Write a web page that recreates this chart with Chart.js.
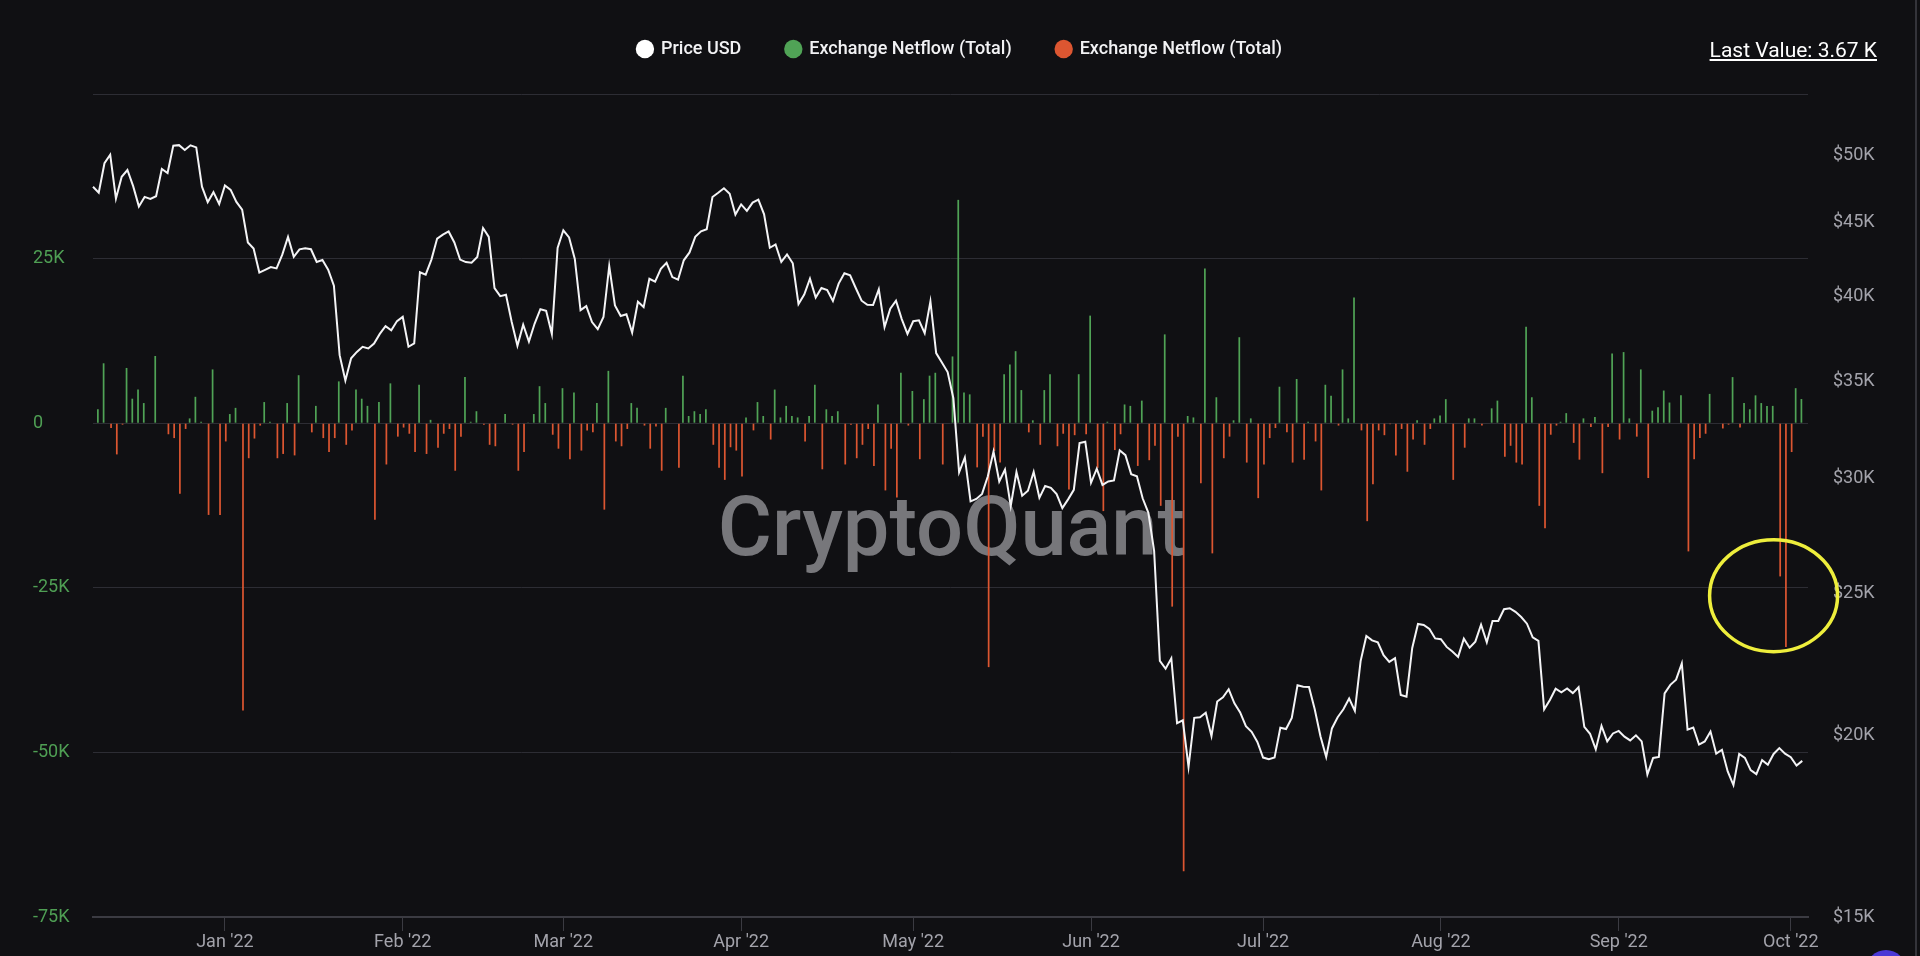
<!DOCTYPE html>
<html>
<head>
<meta charset="utf-8">
<title>BTC Exchange Netflow vs Price</title>
<script src="https://cdn.jsdelivr.net/npm/chart.js@4.4.1/dist/chart.umd.min.js"></script>
<style>
  html, body { margin: 0; padding: 0; background: #101013; overflow: hidden; }
  #wrap { position: relative; width: 1920px; height: 956px; }
  #lastValue {
    position: absolute; top: 40px; right: 43px;
    color: #ffffff; font: 400 21px Roboto, sans-serif; line-height: 1;
    text-decoration: underline; text-decoration-thickness: 2px; text-underline-offset: 2px;
  }
  .edge { position: absolute; left: 1915px; top: 0; width: 2px; height: 956px; background: #34343a; }
  .bubble { position: absolute; left: 1866px; top: 950px; width: 40px; height: 40px; border-radius: 50%; background: #4a38d6; }
</style>
</head>
<body>
<div id="wrap">
  <canvas id="netflowChart" width="1920" height="956"></canvas>
  <div id="lastValue">Last Value: 3.67 K</div>
  <div class="edge"></div>
  <div class="bubble"></div>
</div>
<script>
// daily data, first day 2021-12-09, last 2022-10-03
const startDay = Date.UTC(2021, 11, 9);
const dayCount = 300; // one empty day at the end (Oct 4) like the source chart
const monthNames = ['Jan', 'Feb', 'Mar', 'Apr', 'May', 'Jun', 'Jul', 'Aug', 'Sep', 'Oct', 'Nov', 'Dec'];

const priceUsd = [
  // Dec 9 - Dec 31
  47580, 47140, 49390, 50050, 46700, 48340, 48860, 47630, 46130, 46830, 46680, 46880, 48940, 48630, 50780, 50820,
  50430, 50810, 50640, 47590, 46440, 47180, 46310,
  // Jan
  47690, 47350, 46460, 45900, 43570, 43160, 41550, 41730, 41910, 41820, 42740, 43950, 42590, 43100, 43180, 43110,
  42250, 42380, 41740, 40700, 36460, 35030, 36280, 36650, 36950, 36850, 37140, 37710, 38170, 37920, 38480,
  // Feb
  38740, 36950, 37150, 41570, 41410, 42410, 43840, 44120, 44340, 43570, 42410, 42240, 42200, 42590, 44580, 43960,
  40540, 40030, 40120, 38430, 37010, 38260, 37260, 38330, 39210, 39110, 37700, 43190,
  // Mar
  44420, 43920, 42450, 39150, 39400, 38420, 37990, 38730, 41980, 39440, 38790, 38900, 37790, 39670, 39340, 41140,
  40950, 41800, 42190, 41250, 41080, 42360, 42890, 43960, 44350, 44500, 46820, 47130, 47470, 47060, 45540,
  // Apr
  46280, 45810, 46410, 46620, 45560, 43210, 43440, 42250, 42760, 42160, 39530, 40130, 41150, 39940, 40550, 40420,
  39720, 40830, 41500, 41370, 40530, 39740, 39480, 39470, 40460, 38120, 39240, 39740, 38600, 37710,
  // May
  38470, 38530, 37750, 39700, 36580, 36040, 35500, 34060, 30300, 31020, 28940, 29050, 29280, 30100, 31310, 29860,
  30430, 28720, 30310, 29200, 29430, 30320, 29100, 29650, 29560, 29270, 28630, 29030, 29470, 31730, 31800,
  // Jun
  29800, 30470, 29700, 29860, 29910, 31370, 31130, 30210, 30110, 29080, 28420, 26760, 22490, 22210, 22580, 20380,
  20470, 19020, 20550, 20570, 20720, 19970, 21090, 21230, 21500, 21030, 20730, 20280, 20100, 19780,
  // Jul
  19300, 19250, 19300, 20230, 20190, 20550, 21640, 21590, 21580, 20830, 19960, 19320, 20210, 20570, 20830, 21190,
  20780, 22480, 23390, 23230, 23160, 22690, 22450, 22580, 21310, 21250, 22950, 23840, 23800, 23650, 23300,
  // Aug
  23270, 22990, 22820, 22630, 23290, 22960, 23180, 23810, 23160, 23950, 23950, 24400, 24440, 24300, 24100, 23850,
  23340, 23210, 20830, 21140, 21520, 21400, 21530, 21370, 21570, 20260, 20040, 19550, 20290, 19800, 20050,
  // Sep
  20130, 19950, 19830, 19990, 19800, 18790, 19290, 19320, 21360, 21650, 21830, 22400, 20170, 20240, 19700, 19800,
  20110, 19420, 19540, 18880, 18480, 19410, 19290, 18920, 18800, 19220, 19080, 19410, 19590, 19420,
  // Oct
  19310, 19060, 19200
];

const netflow = [
  // Dec 9 - Dec 31
  0, 2100, 9100, -730, -4740, -220, 8390, 3720, 5110, 3060, 0, 10210, 0, -1680, -2260, -10720,
  -875, 730, 4010, 220, -13930, 8170, -13930,
  // Jan
  -2770, 1390, 2330, -43620, -5320, -2330, -360, 3210, 220, -5320, -4670, 3060, -4890, 7290, 0, -1390,
  2630, -2260, -4380, -2260, 6350, -3280, -1090, 5110, 3720, 2630, -14660, 3210, -6270, 6050, -2040,
  // Feb
  -660, -1600, -4380, 5840, -4670, 510, -3720, -1600, -875, -7220, -2040, 7000, 220, 1820, -220, -3280,
  -3500, 0, 1390, -220, -7220, -4380, 100, 1390, 5620, 3060, -1750, -3870,
  // Mar
  5320, -5470, 4670, -4160, -1090, -1390, 3060, -13130, 7950, -2770, -3500, -875, 3060, 2330, -360, -3870,
  -510, -7220, 2330, 0, -6780, 7220, 1090, 1820, 1390, 2115, -3280, -6780, -8610, -3650, -4160,
  // Apr
  -8100, 875, -1090, 3210, 1090, -2480, 5110, 875, 2630, 1090, 875, -2770, 1090, 5840, -7000, 2115,
  1090, 1820, -6270, -220, -5320, -3280, -875, -6490, 2845, -10210, -3870, -11300, 7660, -360,
  // May
  4890, -5470, 3650, 7220, 7660, -6270, 0, 10140, 33920, 4670, 4380, -6710, -2040, -37050, -4230, -5980,
  7440, 8900, 10940, 5030, -1390, 440, -3280, 5030, 7440, -3500, -1600, -10070, -1820, 7440, -1680,
  // Jun
  16340, -6780, -13350, 220, -4080, -1680, 2845, 2630, -6490, 3430, -5620, -3430, -12550, 13490, -27860, -2040,
  -68050, 1090, 875, -9120, 23490, -19770, 3940, -5320, -2040, 440, 13060, -5980, 730, -11380,
  // Jul
  -6270, -2260, -730, 5540, -1390, -5980, 6710, -5540, 220, -2770, -10210, 5840, 4160, -360, 8170, 730,
  19110, -1090, -14880, -9260, -1090, -1820, -150, -4890, -875, -7370, -2480, 440, -3280, -875, 730,
  // Aug
  1170, 3650, -8610, 0, -3720, 730, 730, -360, 0, 2260, 3430, -5110, -3430, -5980, -6270, 14660,
  3940, -12550, -15970, -1750, -360, 220, 1530, -2990, -5540, 730, -580, 950, -7590, -580, 10580,
  // Sep
  -2480, 10800, 730, -2040, 8170, -8320, 1900, 2410, 4960, 3140, 0, 4230, -19470, -5470, -2260, -1600,
  4450, 0, -800, -220, 7000, -660, 3060, 2115, 4230, 3060, 2630, 2630, -23270, -33990,
  // Oct
  -4380, 5320, 3670
];

const priceTicks = [15000, 20000, 25000, 30000, 35000, 40000, 45000, 50000];
const circled = { day: 293, value: -26200 }; // yellow ring around the late-Sep outflows

const labels = [];
for (let i = 0; i < dayCount; i++) {
  labels.push(new Date(startDay + i * 86400000).toISOString().slice(0, 10));
}
const inflow = netflow.map(v => v > 0 ? v : null);
const outflow = netflow.map(v => v < 0 ? v : null);

const GREEN = '#50a356';
const RED = '#dc5631';

Chart.defaults.font.family = 'Roboto, sans-serif';

// make room under the legend so the plot starts where the original does
const legendSpace = {
  id: 'legendSpace',
  beforeInit(chart) {
    const fit = chart.legend.fit;
    chart.legend.fit = function () {
      fit.call(this);
      this.height = 99;
    };
  }
};

const watermark = {
  id: 'watermark',
  beforeDatasetsDraw(chart) {
    const { ctx, chartArea } = chart;
    ctx.save();
    ctx.font = '500 83px Roboto';
    ctx.fillStyle = '#77777b';
    ctx.textAlign = 'center';
    ctx.textBaseline = 'alphabetic';
    ctx.fillText('CryptoQuant', (chartArea.left + chartArea.right) / 2 + 1, (chartArea.top + chartArea.bottom) / 2 + 49);
    ctx.restore();
  }
};

const ring = {
  id: 'ring',
  afterDraw(chart) {
    const ctx = chart.ctx;
    const x = chart.scales.x.getPixelForValue(circled.day);
    const y = chart.scales.y.getPixelForValue(circled.value);
    ctx.save();
    ctx.strokeStyle = '#eeee3c';
    ctx.lineWidth = 3.5;
    ctx.beginPath();
    ctx.ellipse(x, y, 64, 56, 0, 0, Math.PI * 2);
    ctx.stroke();
    ctx.restore();
  }
};

const ctx = document.getElementById('netflowChart').getContext('2d');
new Chart(ctx, {
  type: 'bar',
  data: {
    labels: labels,
    datasets: [
      {
        type: 'line',
        label: 'Price USD',
        data: priceUsd,
        yAxisID: 'y1',
        borderColor: '#f4f4f6',
        backgroundColor: '#ffffff',
        borderWidth: 2,
        pointRadius: 0,
        pointHoverRadius: 0,
        tension: 0,
        order: 0
      },
      {
        label: 'Exchange Netflow (Total)',
        data: inflow,
        yAxisID: 'y',
        backgroundColor: GREEN,
        borderColor: GREEN,
        borderWidth: 0,
        categoryPercentage: 0.6,
        barPercentage: 1,
        order: 1
      },
      {
        label: 'Exchange Netflow (Total)',
        data: outflow,
        yAxisID: 'y',
        backgroundColor: RED,
        borderColor: RED,
        borderWidth: 0,
        categoryPercentage: 0.6,
        barPercentage: 1,
        order: 2
      }
    ]
  },
  options: {
    responsive: false,
    animation: false,
    events: [],
    layout: { padding: { top: -5, left: 33, right: 33, bottom: 0 } },
    plugins: {
      legend: {
        position: 'top',
        labels: {
          usePointStyle: true,
          pointStyle: 'circle',
          boxWidth: 14,
          boxHeight: 13,
          padding: 45,
          color: '#f2f2f4',
          font: { size: 18, weight: '500' },
          // same size dots for all three entries, no outline
          generateLabels(chart) {
            return Chart.defaults.plugins.legend.labels.generateLabels(chart)
              .map(item => Object.assign(item, { lineWidth: 0 }));
          }
        }
      },
      tooltip: { enabled: false }
    },
    scales: {
      x: {
        type: 'category',
        offset: false,
        grid: {
          offset: false,
          drawOnChartArea: false,
          drawTicks: true,
          tickLength: 14,
          color: '#3b3b42'
        },
        border: { display: true, color: '#3b3b42', width: 2 },
        ticks: {
          autoSkip: false,
          maxRotation: 0,
          padding: 1,
          color: '#a3a3ab',
          font: { size: 18 },
          callback(value) {
            const d = this.getLabelForValue(value);
            return monthNames[Number(d.slice(5, 7)) - 1] + " '" + d.slice(2, 4);
          }
        },
        afterBuildTicks(scale) {
          scale.ticks = scale.ticks.filter(t => labels[t.value].endsWith('-01'));
        },
        afterFit(scale) { scale.height = 39; }
      },
      y: {
        position: 'left',
        min: -75000,
        max: 50000,
        grid: { color: '#2d2d34', drawTicks: false },
        border: { display: false },
        ticks: {
          stepSize: 25000,
          crossAlign: 'far',
          color: '#4f9f54',
          font: { size: 18 },
          callback(v) {
            if (v === 50000) return '';
            return v === 0 ? '0' : (v / 1000) + 'K';
          }
        },
        afterFit(scale) { scale.width = 60; }
      },
      y1: {
        type: 'logarithmic',
        position: 'right',
        min: 15000,
        max: 55100,
        grid: { display: false, drawTicks: false },
        border: { display: false },
        ticks: {
          padding: 25,
          color: '#a3a3ab',
          font: { size: 18 },
          callback(v) { return '$' + (v / 1000) + 'K'; }
        },
        afterBuildTicks(scale) {
          scale.ticks = priceTicks.map(v => ({ value: v }));
        },
        afterFit(scale) { scale.width = 79; }
      }
    }
  },
  plugins: [legendSpace, watermark, ring]
});
</script>
</body>
</html>
